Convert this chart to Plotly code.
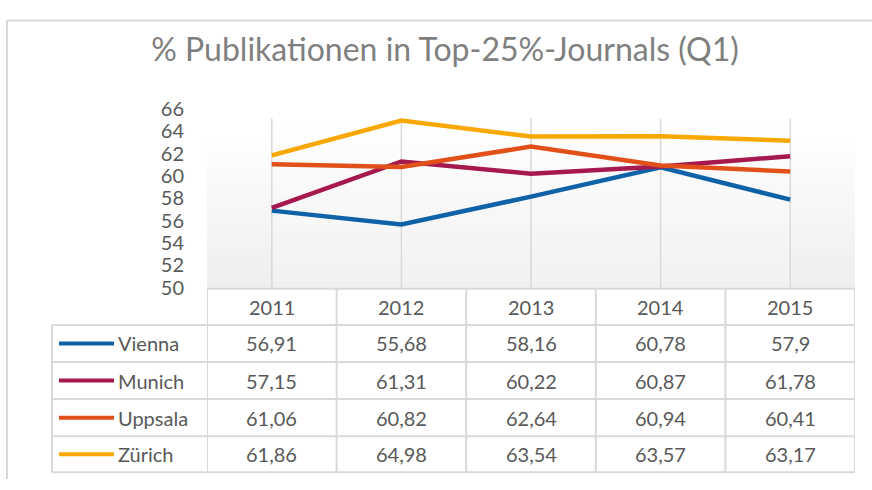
import plotly.graph_objects as go

# ---- data ----
years = ["2011", "2012", "2013", "2014", "2015"]
series_names = ["Vienna", "Munich", "Uppsala", "Zürich"]
vienna = [56.91, 55.68, 58.16, 60.78, 57.9]
munich = [57.15, 61.31, 60.22, 60.87, 61.78]
uppsala = [61.06, 60.82, 62.64, 60.94, 60.41]
zurich = [61.86, 64.98, 63.54, 63.57, 63.17]
y_ticks = [50, 52, 54, 56, 58, 60, 62, 64, 66]
title_text = "% Publikationen in Top-25%-Journals (Q1)"

values = [vienna, munich, uppsala, zurich]
colors = ["#1062A8", "#A6194F", "#E2501A", "#F8A800"]

W, H = 872, 490
FONT = "Lato"
TXT = "#595959"
GRID = "#d9d9d9"


def px(x):
    return x / W


def py(y):
    return 1 - y / H


fig = go.Figure()

for name, vals, col in zip(series_names, values, colors):
    fig.add_trace(go.Scatter(
        x=years, y=vals, mode="lines", name=name,
        line=dict(color=col, width=4.5), showlegend=False,
        hoverinfo="skip",
    ))

shapes = []


def gradient(x0, x1, y0, y1, top=(255, 255, 255), bot=(238, 238, 238), n=24):
    h = (y1 - y0) / n
    for i in range(n):
        t = (i + 0.5) / n
        c = tuple(int(round(top[k] + (bot[k] - top[k]) * t)) for k in range(3))
        shapes.append(dict(type="rect", xref="paper", yref="paper",
                           x0=px(x0), x1=px(x1), y0=py(y0 + i * h), y1=py(y0 + (i + 1) * h + 0.6),
                           fillcolor="rgb(%d,%d,%d)" % c, line=dict(width=0), layer="below"))


gradient(207, 855, 123, 289)
gradient(272, 792, 110, 289, top=(255, 255, 255), bot=(241, 241, 241))

# vertical gridlines at category positions
for i, yr in enumerate(years):
    shapes.append(dict(type="line", xref="x", yref="paper", x0=i, x1=i,
                       y0=py(289), y1=py(111), line=dict(color=GRID, width=1.5), layer="below"))

# outer chart border (left & top)
shapes.append(dict(type="line", xref="paper", yref="paper", x0=px(7), x1=px(7), y0=py(8), y1=0,
                   line=dict(color=GRID, width=2)))
shapes.append(dict(type="line", xref="paper", yref="paper", x0=px(7), x1=1, y0=py(8), y1=py(8),
                   line=dict(color=GRID, width=2)))

# data table grid
row_b = [290, 328, 367, 406, 445, 483]
col_left = 52
col_leg = 207
col_right = 855
shapes.append(dict(type="line", xref="paper", yref="paper", x0=px(col_leg), x1=px(col_right),
                   y0=py(row_b[0]), y1=py(row_b[0]), line=dict(color=GRID, width=2)))
for yb in row_b[1:]:
    shapes.append(dict(type="line", xref="paper", yref="paper", x0=px(col_left), x1=px(col_right),
                       y0=py(yb), y1=py(yb), line=dict(color=GRID, width=2)))
shapes.append(dict(type="line", xref="paper", yref="paper", x0=px(col_left), x1=px(col_left),
                   y0=py(row_b[1]), y1=py(row_b[-1]), line=dict(color=GRID, width=2)))
for k in range(len(years) + 1):
    shapes.append(dict(type="line", xref="x", yref="paper", x0=k - 0.5, x1=k - 0.5,
                       y0=py(row_b[0]), y1=py(row_b[-1]), line=dict(color=GRID, width=2)))

annotations = []
hc = (row_b[0] + row_b[1]) / 2
for i, yr in enumerate(years):
    annotations.append(dict(x=i, xref="x", y=py(hc), yref="paper", text=yr, showarrow=False,
                            font=dict(family=FONT, size=20, color=TXT), xanchor="center", yanchor="middle"))
for r, (name, vals, col) in enumerate(zip(series_names, values, colors)):
    yc = (row_b[r + 1] + row_b[r + 2]) / 2
    shapes.append(dict(type="line", xref="paper", yref="paper", x0=px(59), x1=px(114),
                       y0=py(yc), y1=py(yc), line=dict(color=col, width=4)))
    annotations.append(dict(x=px(116), xref="paper", y=py(yc), yref="paper", text=name, showarrow=False,
                            font=dict(family=FONT, size=20, color=TXT), xanchor="left", yanchor="middle"))
    for i, v in enumerate(vals):
        annotations.append(dict(x=i, xref="x", y=py(yc), yref="paper", text=str(v).replace(".", ","),
                                showarrow=False, font=dict(family=FONT, size=20, color=TXT),
                                xanchor="center", yanchor="middle"))

fig.update_layout(
    width=W, height=H,
    margin=dict(l=0, r=0, t=0, b=0),
    paper_bgcolor="white", plot_bgcolor="rgba(0,0,0,0)",
    title=dict(text=title_text, x=px(445), xanchor="center", y=py(50), yanchor="middle",
               font=dict(family=FONT, size=32, color="#7f7f7f")),
    xaxis=dict(domain=[px(207), px(855)], type="category", categoryarray=years,
               range=[-0.5, 4.5], showticklabels=False, showgrid=False, zeroline=False,
               showline=False, ticks=""),
    yaxis=dict(domain=[py(289), py(101)], range=[50, 66], tickvals=y_ticks,
               showgrid=False, zeroline=False, showline=False, ticks="",
               ticklabelstandoff=22,
               tickfont=dict(family=FONT, size=20, color=TXT)),
    shapes=shapes, annotations=annotations,
)

fig.write_html("out.html", config={"displayModeBar": False},
               post_script="document.body.style.margin='0';document.body.style.overflow='hidden';")
